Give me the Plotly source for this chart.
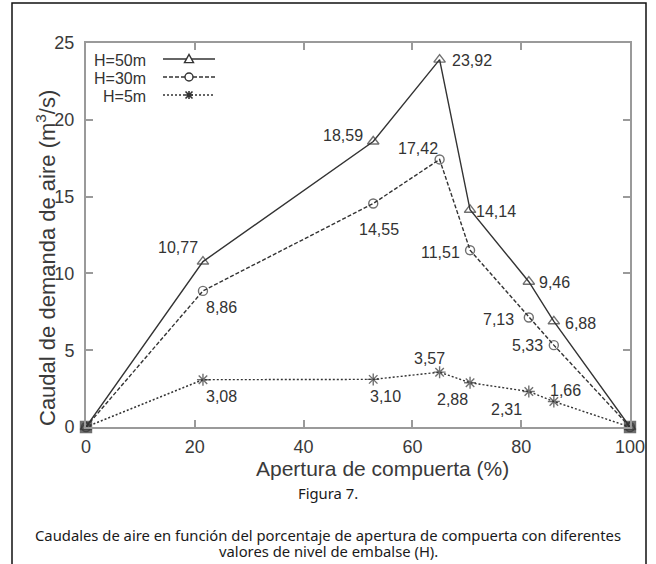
import plotly.graph_objects as go

# ---- data ----
apertura = [0, 21.5, 52.8, 65.0, 70.6, 81.4, 86.0, 100]
q_h50 = [0, 10.77, 18.59, 23.92, 14.14, 9.46, 6.88, 0]
q_h30 = [0, 8.86, 14.55, 17.42, 11.51, 7.13, 5.33, 0]
q_h5 = [0, 3.08, 3.10, 3.57, 2.88, 2.31, 1.66, 0]
series_names = ["H=50m", "H=30m", "H=5m"]
x_ticks = [0, 20, 40, 60, 80, 100]
y_ticks = [0, 5, 10, 15, 20, 25]

# ---- styling ----
W, H = 656, 564
L, R, T, B = 86, 630, 43, 427  # plot area in pixels
INK = "#333333"
FRAME = "#9a9a9a"
FONT = "Liberation Sans, Arial, sans-serif"

# label offsets (dx, dy in screen px) for interior points 1..6
off_h50 = [(-25, -14), (-30, -6), (32, 1), (26, 2), (26, 1), (27, 2)]
off_h30 = [(19, 17), (6, 26), (-22, -11), (-30, 2), (-30, 2), (-26, 0)]
off_h5 = [(19, 17), (12, 17), (-10, -14), (-18, 17), (-22, 18), (12, -11)]


def fmt(v):
    return f"{v:.2f}".replace(".", ",")


def PX(p):
    return (p - L) / (R - L)


def PY(p):
    return (B - p) / (B - T)


fig = go.Figure()

styles = [
    dict(dash="solid", symbol="triangle-up-open", size=10),
    dict(dash="4px,2px", symbol="circle-open", size=9),
    dict(dash="2px,2px", symbol="asterisk-open", size=10),
]
all_y = [q_h50, q_h30, q_h5]
for name, ys, st in zip(series_names, all_y, styles):
    symbols = [st["symbol"]] * len(ys)
    sizes = [st["size"]] * len(ys)
    if st["symbol"] == "asterisk-open":
        symbols[0] = symbols[-1] = "square"
        sizes[0] = sizes[-1] = 11
    fig.add_trace(go.Scatter(
        x=apertura, y=ys, mode="lines+markers", name=name,
        line=dict(color=INK, width=1.4, dash=st["dash"]),
        marker=dict(symbol=symbols, size=sizes, color=INK,
                    line=dict(color=INK, width=1.4)),
        showlegend=False, hoverinfo="skip", cliponaxis=False,
    ))

annotations = []
for ys, offs in zip(all_y, [off_h50, off_h30, off_h5]):
    for i in range(1, len(ys) - 1):
        dx, dy = offs[i - 1]
        annotations.append(dict(
            x=apertura[i], y=ys[i], xref="x", yref="y", text=fmt(ys[i]),
            showarrow=False, xshift=dx, yshift=-dy,
            xanchor="center", yanchor="middle",
            font=dict(family=FONT, size=16, color=INK),
        ))

# axis titles
annotations.append(dict(
    x=PX(382), y=PY(468), xref="paper", yref="paper",
    text="Apertura de compuerta (%)", showarrow=False,
    xanchor="center", yanchor="middle",
    font=dict(family=FONT, size=21, color="#3a3a3a"),
))
annotations.append(dict(
    x=PX(46), y=PY(258), xref="paper", yref="paper",
    text="Caudal de demanda de aire (m<sup>3</sup>/s)", showarrow=False,
    xanchor="center", yanchor="middle",
    textangle=-90, font=dict(family=FONT, size=22, color="#3a3a3a"),
))

# caption
CAP = "Noto Sans, Open Sans, sans-serif"
caption_lines = [
    ("Figura 7.", 493),
    ("Caudales de aire en función del porcentaje de apertura de compuerta con diferentes", 535),
    ("valores de nivel de embalse (H).", 551),
]
for txt, yy in caption_lines:
    annotations.append(dict(
        x=PX(328), y=PY(yy), xref="paper", yref="paper", text=txt,
        showarrow=False, xanchor="center", yanchor="middle",
        font=dict(family=CAP, size=14.8, color="#1a1a1a"),
    ))

# manual legend (gnuplot style: label left, sample right)
shapes = []
leg_rows = [59, 77, 95]
for name, st, yy in zip(series_names, styles, leg_rows):
    annotations.append(dict(
        x=PX(148), y=PY(yy + 1), xref="paper", yref="paper", text=name,
        showarrow=False, xanchor="right", yanchor="middle",
        font=dict(family=FONT, size=16, color=INK),
    ))
    shapes.append(dict(
        type="line", xref="paper", yref="paper",
        x0=PX(163), x1=PX(215), y0=PY(yy), y1=PY(yy),
        line=dict(color=INK, width=1.4, dash=st["dash"]),
    ))

# legend marker glyphs as paths
cx = 189
r = 4.5
tri = f"M {PX(cx - r)} {PY(59 + r * 0.8)} L {PX(cx + r)} {PY(59 + r * 0.8)} L {PX(cx)} {PY(59 - r)} Z"
shapes.append(dict(type="path", xref="paper", yref="paper", path=tri,
                   line=dict(color=INK, width=1.4), fillcolor="white"))
shapes.append(dict(type="circle", xref="paper", yref="paper",
                   x0=PX(cx - 4), x1=PX(cx + 4), y0=PY(77 + 4), y1=PY(77 - 4),
                   line=dict(color=INK, width=1.4), fillcolor="white"))
ast = (f"M {PX(cx - 4)} {PY(95)} L {PX(cx + 4)} {PY(95)} "
       f"M {PX(cx)} {PY(95 - 4)} L {PX(cx)} {PY(95 + 4)} "
       f"M {PX(cx - 3.5)} {PY(95 - 3.5)} L {PX(cx + 3.5)} {PY(95 + 3.5)} "
       f"M {PX(cx - 3.5)} {PY(95 + 3.5)} L {PX(cx + 3.5)} {PY(95 - 3.5)}")
shapes.append(dict(type="path", xref="paper", yref="paper", path=ast,
                   line=dict(color=INK, width=1.6)))

# outer black frame
shapes.append(dict(type="rect", xref="paper", yref="paper",
                   x0=PX(12), x1=PX(646), y0=PY(575), y1=PY(3),
                   line=dict(color="#111111", width=1.5), fillcolor="rgba(0,0,0,0)",
                   layer="below"))

axis_common = dict(
    showgrid=False, zeroline=False, showline=True, linecolor=FRAME,
    linewidth=2, mirror="ticks", ticks="inside", ticklen=7,
    tickcolor=FRAME, tickwidth=1.5,
    tickfont=dict(family=FONT, size=18, color="#3a3a3a"),
)

fig.update_layout(
    width=W, height=H,
    margin=dict(l=L, r=W - R, t=T, b=H - B),
    paper_bgcolor="white", plot_bgcolor="white",
    xaxis=dict(range=[0, 100], tickvals=x_ticks, ticklabelstandoff=2, **axis_common),
    yaxis=dict(range=[0, 25], tickvals=y_ticks, ticklabelstandoff=6, **axis_common),
    annotations=annotations, shapes=shapes,
    showlegend=False,
)

fig.write_html("out.html")
